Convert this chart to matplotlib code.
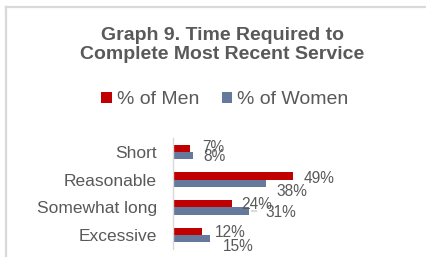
import matplotlib.pyplot as plt
from matplotlib.lines import Line2D
from matplotlib.patches import Patch
import numpy as np

plt.rcParams['font.family'] = ['Liberation Sans', 'DejaVu Sans']

categories = ["Short", "Reasonable", "Somewhat long", "Excessive"]
men = [7, 49, 24, 12]
women = [8, 38, 31, 15]
series_names = ["% of Men", "% of Women"]

# label nudges in pixels (dx from bar end, dy downwards) - hand placed like the original
men_offsets = [(12, -1), (11, 2), (10, 1), (13, 1)]
women_offsets = [(11, 1), (11, 8), (17, 2), (13, 8)]

red = "#C00000"
blue = "#64799B"
grey = "#595959"

fig = plt.figure(figsize=(4.27, 2.57), dpi=100)
fig.patch.set_facecolor("white")

# chart frame (only left/top edges visible in the crop)
x0 = 6.5 / 427
y0 = 1 - 6.5 / 257
fig.add_artist(Line2D([x0, x0], [0, y0], transform=fig.transFigure, color="#d9d9d9", lw=1.6))
fig.add_artist(Line2D([x0, 1], [y0, y0], transform=fig.transFigure, color="#d9d9d9", lw=1.6))

fig.text(0.521, 1 - 45 / 257, "Graph 9. Time Required to\nComplete Most Recent Service",
         ha="center", va="center", fontsize=14, fontweight="bold", color=grey,
         linespacing=1.2)

handles = [Patch(facecolor=red), Patch(facecolor=blue)]
fig.legend(handles, series_names, loc="center", bbox_to_anchor=(0.527, 0.611),
           ncol=2, frameon=False, fontsize=14, handlelength=0.52, handleheight=0.52,
           handletextpad=0.26, columnspacing=1.19, labelcolor=grey, borderpad=0)

ax = fig.add_axes([173 / 427, 1 - 249 / 257, 244 / 427, 111 / 257])
y = np.arange(len(categories))
h = 0.26
ax.barh(y - h / 2, men, height=h, color=red)
ax.barh(y + h / 2, women, height=h, color=blue)
ax.set_xlim(0, 100)
ax.set_ylim(len(categories) - 0.5, -0.5)

for s in ["top", "right", "bottom"]:
    ax.spines[s].set_visible(False)
ax.spines["left"].set_color("#d9d9d9")
ax.spines["left"].set_linewidth(1.0)
ax.set_xticks([])
ax.set_yticks(y)
ax.set_yticklabels(categories, fontsize=12.5, color=grey)
ax.tick_params(axis="y", length=0, pad=11.5)

for i in range(len(categories)):
    dx, dy = men_offsets[i]
    ax.annotate(f"{men[i]}%", (men[i], y[i] - h / 2), xytext=(dx, -dy),
                textcoords="offset pixels", ha="left", va="center",
                fontsize=11.2, color=grey)
    dx, dy = women_offsets[i]
    ax.annotate(f"{women[i]}%", (women[i], y[i] + h / 2), xytext=(dx, -dy),
                textcoords="offset pixels", ha="left", va="center",
                fontsize=11.2, color=grey)

# leader line for the moved 31% label
i = 2
ax.annotate("", (women[i], y[i] + h / 2), xytext=(women[i] + 4.5, y[i] + h / 2),
            arrowprops=dict(arrowstyle="-", color="#bfbfbf", lw=0.8))

fig.savefig("out.png", dpi=100)
